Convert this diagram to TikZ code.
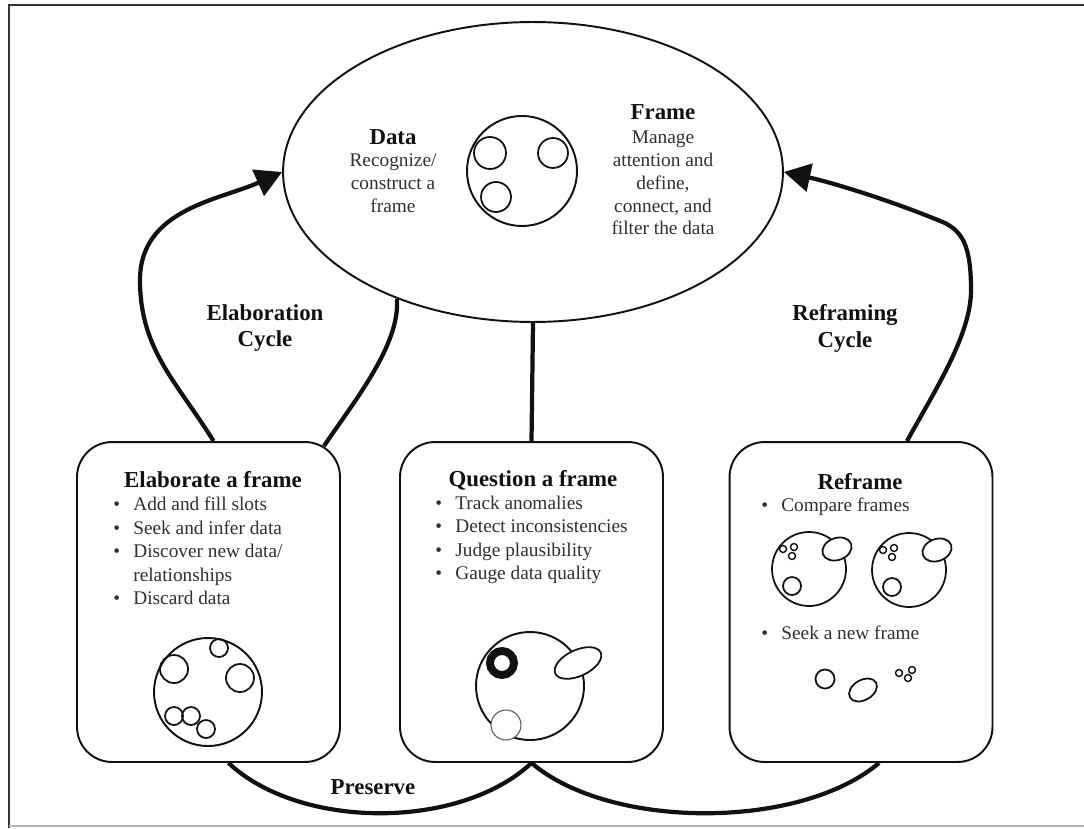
\documentclass[tikz,border=0pt]{standalone}
\usepackage{fontspec}
\setmainfont{Liberation Serif}
\usetikzlibrary{arrows.meta, shapes.geometric, calc}
\definecolor{frameInk}{HTML}{111111}
\definecolor{bodyInk}{HTML}{303030}
\definecolor{edgeGray}{HTML}{B4B4B4}
\newcommand{\bul}{\makebox[0.4cm][l]{\textbullet}}
\newcommand{\nobul}{\makebox[0.4cm][l]{}}

\begin{document}
\begin{tikzpicture}[
  x=0.02cm, y=-0.02cm,
  loopline/.style={line width=2.4pt, draw=frameInk},
  looparrow/.style={loopline, -{Triangle[length=15pt, width=16pt]}},
  stagebox/.style={draw=frameInk, line width=1.1pt, rounded corners=0.7cm,
    minimum width=5.26cm, minimum height=6.4cm, inner sep=0pt},
  heading/.style={font=\fontsize{13}{15.3}\selectfont\bfseries, text=frameInk, align=center},
  bodytext/.style={font=\fontsize{11}{13}\selectfont, text=bodyInk, align=center},
  itemlist/.style={font=\fontsize{11}{13.4}\selectfont, text=bodyInk, align=left,
    anchor=west, inner sep=0pt},
  blob/.style={draw=frameInk, line width=1pt}
]

  \useasboundingbox (0,0) rectangle (1084,828);
  \draw[line width=1.2pt, frameInk!85] (1084,5) -- (9,5) -- (9,828);
  \draw[line width=0.8pt, edgeGray] (9,826) -- (1084,826);

  % central frame
  \node[ellipse, draw=frameInk, line width=1.1pt, minimum width=10cm, minimum height=6cm,
    inner sep=0pt] (frame) at (533,172) {};
  \draw[blob, line width=1.1pt] (522,171) circle (55);
  \draw[blob] (490,153) circle (16);
  \draw[blob] (553,153) circle (15);
  \draw[blob] (496,197) circle (15);

  \node[heading] (dataT) at (393,137) {Data};
  \node[bodytext] (dataB) at (393,183) {Recognize/\\construct a\\frame};
  \node[heading] (frameT) at (663,112) {Frame};
  \node[bodytext] (frameB) at (663,183) {Manage\\attention and\\define,\\connect, and\\filter the data};

  % three boxes
  \node[stagebox] (elab) at (208.5,602) {};
  \node[stagebox] (quest) at (531.5,602) {};
  \node[stagebox] (refr) at (861,602) {};

  \node[heading] (elabT) at (213,480) {Elaborate a frame};
  \node[itemlist] (elabL) at (113,551) {\bul Add and fill slots\\\bul Seek and infer data\\
    \bul Discover new data/\\\nobul relationships\\\bul Discard data};

  \node[heading] (questT) at (533,480) {Question a frame};
  \node[itemlist] (questL) at (435,540) {\bul Track anomalies\\\bul Detect inconsistencies\\
    \bul Judge plausibility\\\bul Gauge data quality};

  \node[heading] (refrT) at (860,482) {Reframe};
  \node[itemlist] (refrA) at (761,507) {\bul Compare frames};
  \node[itemlist] (refrB) at (761,633) {\bul Seek a new frame};

  % elaborate picture
  \draw[blob, line width=1.1pt] (208,692) circle (54);
  \draw[blob] (174,669) circle (14);
  \draw[blob] (219,648) circle (9);
  \draw[blob] (240,678) circle (14);
  \draw[blob] (174,716) circle (9);
  \draw[blob] (191,716) circle (9);
  \draw[blob] (206,729) circle (9);

  % question picture
  \draw[blob, line width=1.1pt] (530,686) circle (54);
  \draw[draw=frameInk, line width=4.5pt] (502,663) circle (12);
  \draw[blob, fill=white, rotate around={25:(578,663)}] (578,663) ellipse [x radius=25, y radius=13];
  \draw[draw=frameInk!70, line width=0.6pt, fill=white] (506,725) circle (15);

  % reframe pictures
  \foreach \cx/\cy in {809/569, 909/570} {
    \draw[blob] (\cx,\cy) circle (37);
    \draw[blob, fill=white, rotate around={20:(\cx+28,\cy-20)}] (\cx+28,\cy-20) ellipse [x radius=15, y radius=11];
    \draw[blob] (\cx-17,\cy+17) circle (9);
    \foreach \dx/\dy in {-26/-20, -15/-22, -17/-13}
      \draw[blob, line width=0.8pt] (\cx+\dx,\cy+\dy) circle (3.5);
  }
  \draw[blob] (825,679) circle (9.5);
  \draw[blob, rotate around={30:(863,690)}] (863,690) ellipse [x radius=15, y radius=10];
  \foreach \px/\py in {899/673, 912/670, 908/678}
    \draw[blob, line width=0.8pt] (\px,\py) circle (3.5);

  % cycles
  \draw[looparrow] ($(elab.north)+(5,0)$) .. controls (177,382) and (140,350) .. (140,280)
    .. controls (140,209) and (220,200) .. (frame.west);
  \draw[loopline] ($(elab.north east)+(-17,5)$) .. controls (355,400) and (400,345) .. (frame.223);
  \draw[loopline] (frame.south) -- (quest.north);
  \draw[looparrow] ($(refr.north)+(46,0)$) .. controls (935,390) and (971,335) .. (971,290)
    .. controls (971,245) and (962,232) .. (945,223)
    .. controls (890,200) and (830,182) .. (frame.east);

  \node[heading] (elabC) at (265,328) {Elaboration\\Cycle};
  \node[heading] (refrC) at (845,328) {Reframing\\Cycle};

  % preserve
  \draw[loopline] ($(elab.south)+(20,0)$) .. controls (300,830) and (460,830) .. (quest.south);
  \draw[loopline] (quest.south) .. controls (610,830) and (800,830) .. ($(refr.south)+(18,0)$);
  \node[heading] (presT) at (373,787) {Preserve};

\end{tikzpicture}
\end{document}
